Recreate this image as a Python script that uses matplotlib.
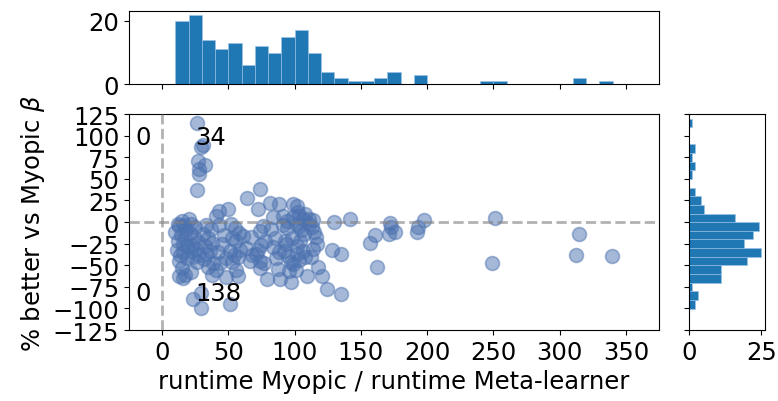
import numpy as np
import matplotlib
matplotlib.use("Agg")
import matplotlib.pyplot as plt

# runtime ratio (x) and % improvement (y)
ratio_pos = [26.5, 31, 29.5, 27, 32, 28.2, 27.7, 26.5, 73.6, 64, 81.2, 88.2, 98.8, 72.3,
             43.3, 49.6, 101.8, 102.6, 40.8, 20.6, 15, 83.7, 91, 98.8, 106.4, 103.5,
             110.5, 114, 94, 108, 129.5, 141.5, 198, 251]
better_pos = [114.7, 89, 87, 71, 66, 61.4, 55.6, 37, 38.2, 27.8, 22, 20.5, 20.9, 15,
              13, 15, 18.2, 11.2, 7.3, 3.5, 1.5, 5.4, 7.3, 5.4, 3.5, 6.5,
              4, 2, 1.5, 9, 0.5, 3.5, 2.3, 4.6]

ratio_neg = [11.8, 16.5, 13, 18, 10.1, 14.5, 17.5, 12, 15.5, 19, 11, 16, 13.5, 18.5, 12.5,
             15, 17, 13, 15.6,
             22, 25, 21, 24, 27, 22.5, 25.5, 21.5, 28, 23.5, 26, 22, 23.2, 29.5, 29.5,
             33, 37, 31, 35, 38, 32, 36, 34, 31.5, 38.5, 35, 38,
             43, 47, 45, 42, 48, 44, 41, 48.4,
             52, 55, 58, 53, 56, 51, 59, 54, 57, 52.5, 55.5, 57, 50.9,
             61, 67.3, 63, 68, 66,
             73.6, 76, 78, 75, 72, 71, 73.6, 77, 79, 74,
             82, 85, 84, 88, 86, 87.4, 88.7,
             91, 94, 96, 98, 93, 93.8, 92, 95, 97, 99, 97.6,
             101, 103, 105, 107, 104, 102, 106, 101.5, 108, 103, 101.4, 109,
             111, 113, 115, 116.5, 117, 114, 112.7, 118,
             121, 124.5, 128, 135, 135, 157, 160.6, 162, 172, 172.5, 171.5, 175.7,
             192, 193, 249, 314.7, 312.6, 339.5]
better_neg = [-2.3, -3, -5, -8, -12, -15, -18, -22, -25, -28, -32, -35, -38, -42, -45,
              -53, -61, -63, -65,
              -2, -6, -13, -17, -23, -27, -31, -34, -38, -41, -46, -58, -89, -82, -99.5,
              -4, -8, -14, -19, -24, -28, -33, -37, -43, -47, -52, -61,
              -3, -15, -25, -35, -42, -48, -55, -64,
              -2, -7, -13, -18, -22, -34, -32, -38, -41, -46, -56, -62, -95,
              -16, -17.7, -30, -38, -45,
              -10, -5, -22, -27, -32, -37, -44.8, -48, -66, -53,
              -8, -18, -29, -35, -42, -54.5, -66,
              -3, -7, -57, -19, -22, -25.5, -33, -39, -46, -49, -69.5,
              -2, -5, -9, -14, -22, -28, -33, -37, -41, -44, -56, -62,
              -2, -6, -12, -17.7, -25, -31, -41, -52,
              -62, -77, -32, -37, -83, -24, -15, -51.5, -1, -6, -14, -11.2,
              -11, -6, -47.5, -13.5, -38, -39]

x = np.array(ratio_pos + ratio_neg)
y = np.array(better_pos + better_neg)

x_bins = np.arange(10.1, 341, 10)
y_bins = np.arange(-100.2, 120, 10)

plt.rcParams['font.size'] = 17.5

fig = plt.figure(figsize=(7.78, 4.02), dpi=100)
ax_main = fig.add_axes([0.1658, 0.1766, 0.6812, 0.5373])
ax_top = fig.add_axes([0.1658, 0.7878, 0.6812, 0.1823], sharex=ax_main)
ax_right = fig.add_axes([0.886, 0.1766, 0.0973, 0.5373], sharey=ax_main)

ax_main.scatter(x, y, s=100, color='#4C72B0', alpha=0.5, linewidths=1.2, zorder=2)
ax_main.axhline(0, color='gray', linestyle='--', linewidth=2, alpha=0.6, zorder=3)
ax_main.axvline(0, color='gray', linestyle='--', linewidth=2, alpha=0.6, zorder=3)

# quadrant counts
n_tl = int(np.sum((x < 0) & (y > 0)))
n_tr = int(np.sum((x > 0) & (y > 0)))
n_bl = int(np.sum((x < 0) & (y < 0)))
n_br = int(np.sum((x > 0) & (y < 0)))
ax_main.text(-20, 90, str(n_tl))
ax_main.text(25, 90, str(n_tr))
ax_main.text(-20, -90, str(n_bl))
ax_main.text(25, -90, str(n_br))

ax_main.set_xlim(-25, 375)
ax_main.set_ylim(-125, 125)
ax_main.set_xticks(np.arange(0, 351, 50))
ax_main.set_yticks(np.arange(-125, 126, 25))
ax_main.set_xlabel("runtime Myopic / runtime Meta-learner")
ax_main.set_ylabel(r"% better vs Myopic $\beta$")

ax_top.hist(x, bins=x_bins, color='#1f77b4', edgecolor='#9ec3e6', linewidth=0.4)
ax_top.set_yticks([0, 20])
ax_top.tick_params(axis='x', labelbottom=False)

ax_right.hist(y, bins=y_bins, orientation='horizontal', color='#1f77b4',
              edgecolor='#9ec3e6', linewidth=0.4)
ax_right.set_xticks([0, 25])
ax_right.tick_params(axis='y', labelleft=False)

fig.savefig("out.png", dpi=100)
